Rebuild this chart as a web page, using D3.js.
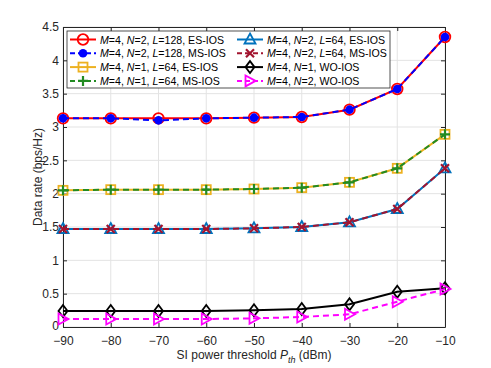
<!DOCTYPE html>
<html>
<head>
<meta charset="utf-8">
<script src="https://cdn.jsdelivr.net/npm/d3@7"></script>
<style>
  body { margin: 0; background: #fff; }
  text { font-family: "Liberation Sans", Arial, sans-serif; }
</style>
</head>
<body>
<div id="chart"></div>
<script>
// data
const thresholds = [-90, -80, -70, -60, -50, -40, -30, -20, -10];
const yTicks = [0, 0.5, 1, 1.5, 2, 2.5, 3, 3.5, 4, 4.5];

const es128 = [3.13, 3.13, 3.13, 3.13, 3.14, 3.15, 3.26, 3.57, 4.35];
const ms128 = [3.13, 3.13, 3.10, 3.13, 3.14, 3.15, 3.26, 3.57, 4.35];
const esN1 = [2.05, 2.06, 2.06, 2.06, 2.07, 2.09, 2.17, 2.38, 2.89];
const msN1 = [2.05, 2.06, 2.06, 2.06, 2.07, 2.09, 2.17, 2.38, 2.89];
const es64 = [1.47, 1.47, 1.47, 1.47, 1.48, 1.50, 1.57, 1.77, 2.38];
const ms64 = [1.47, 1.47, 1.47, 1.47, 1.48, 1.50, 1.57, 1.77, 2.38];
const woN1 = [0.24, 0.24, 0.24, 0.24, 0.25, 0.27, 0.34, 0.53, 0.58];
const woN2 = [0.12, 0.12, 0.12, 0.12, 0.13, 0.15, 0.19, 0.38, 0.57];

const series = [
  {lab: ["M", "=4, ", "N", "=2, ", "L", "=128, ES-IOS"], vals: es128, color: "#ff0000", dash: null, marker: "circle"},
  {lab: ["M", "=4, ", "N", "=2, ", "L", "=128, MS-IOS"], vals: ms128, color: "#0000ff", dash: "6,4", marker: "dot"},
  {lab: ["M", "=4, ", "N", "=1, ", "L", "=64, ES-IOS"], vals: esN1, color: "#edb120", dash: null, marker: "square"},
  {lab: ["M", "=4, ", "N", "=1, ", "L", "=64, MS-IOS"], vals: msN1, color: "#228b22", dash: "6,4", marker: "plus"},
  {lab: ["M", "=4, ", "N", "=2, ", "L", "=64, ES-IOS"], vals: es64, color: "#0072bd", dash: null, marker: "triangle"},
  {lab: ["M", "=4, ", "N", "=2, ", "L", "=64, MS-IOS"], vals: ms64, color: "#a2142f", dash: "6,4", marker: "cross"},
  {lab: ["M", "=4, ", "N", "=1, WO-IOS"], vals: woN1, color: "#000000", dash: null, marker: "diamond"},
  {lab: ["M", "=4, ", "N", "=2, WO-IOS"], vals: woN2, color: "#ff00ff", dash: "6,4", marker: "tri-right"}
];

const W = 491, H = 368;
const margin = {top: 27, right: 46, bottom: 41, left: 63};
const width = W - margin.left - margin.right;
const height = H - margin.top - margin.bottom;

const svg = d3.select("#chart").append("svg")
  .attr("width", W).attr("height", H);
const g = svg.append("g")
  .attr("transform", `translate(${margin.left},${margin.top})`);

const x = d3.scaleLinear().domain([-90, -10]).range([0, width]);
const y = d3.scaleLinear().domain([0, 4.5]).range([height, 0]);

// grid
g.append("g").selectAll("line").data(thresholds).join("line")
  .attr("x1", d => x(d)).attr("x2", d => x(d))
  .attr("y1", 0).attr("y2", height)
  .attr("stroke", "#e3e3e3").attr("stroke-width", 1);
g.append("g").selectAll("line").data(yTicks).join("line")
  .attr("x1", 0).attr("x2", width)
  .attr("y1", d => y(d)).attr("y2", d => y(d))
  .attr("stroke", "#e3e3e3").attr("stroke-width", 1);

// axes (ticks inside, MATLAB style)
const xAxis = d3.axisBottom(x).tickValues(thresholds).tickSizeInner(-4).tickSizeOuter(0).tickPadding(9);
const yAxis = d3.axisLeft(y).tickValues(yTicks).tickSizeInner(-4).tickSizeOuter(0).tickPadding(4)
  .tickFormat(d3.format("~g"));
const xTop = d3.axisTop(x).tickValues(thresholds).tickSizeInner(-4).tickSizeOuter(0).tickFormat("");
const yRight = d3.axisRight(y).tickValues(yTicks).tickSizeInner(-4).tickSizeOuter(0).tickFormat("");

function styleAxis(sel) {
  sel.select(".domain").attr("stroke", "#262626").attr("stroke-width", 1);
  sel.selectAll(".tick line").attr("stroke", "#262626");
  sel.selectAll(".tick text").attr("fill", "#262626").style("font-size", "12px")
    .style("font-family", "'Liberation Sans', Arial, sans-serif");
}
g.append("g").attr("transform", `translate(0,${height})`).call(xAxis).call(styleAxis);
const yG = g.append("g").call(yAxis).call(styleAxis);
// nudge the "0" label up a little so it clears "-90"
yG.selectAll(".tick text").filter(d => d === 0).attr("dy", "0.2em");
g.append("g").call(xTop).call(styleAxis);
g.append("g").attr("transform", `translate(${width},0)`).call(yRight).call(styleAxis);

// labels
g.append("text")
  .attr("transform", `translate(${-21},${height / 2}) rotate(-90)`)
  .attr("text-anchor", "middle")
  .attr("fill", "#262626").style("font-size", "12px")
  .text("Data rate (bps/Hz)");

const xl = g.append("text")
  .attr("x", width / 2).attr("y", height + 32)
  .attr("text-anchor", "middle")
  .attr("fill", "#262626").style("font-size", "12px");
xl.append("tspan").text("SI power threshold ");
xl.append("tspan").style("font-style", "italic").text("P");
xl.append("tspan").style("font-style", "italic").style("font-size", "9px").attr("dy", 4).text("th");
xl.append("tspan").attr("dy", -4).text(" (dBm)");

// markers
function drawMarker(sel, type, color) {
  if (type === "circle") {
    sel.append("circle").attr("r", 5.3).attr("fill", "none").attr("stroke", color).attr("stroke-width", 1.8);
  } else if (type === "dot") {
    sel.append("circle").attr("r", 4.3).attr("fill", color);
  } else if (type === "square") {
    sel.append("rect").attr("x", -4.5).attr("y", -4.5).attr("width", 9).attr("height", 9)
      .attr("fill", "none").attr("stroke", color).attr("stroke-width", 1.8);
  } else if (type === "plus") {
    sel.append("path").attr("d", "M-5,0H5M0,-5V5").attr("stroke", color).attr("stroke-width", 2.2);
  } else if (type === "triangle") {
    sel.append("path").attr("d", "M0,-6L5.5,4H-5.5Z").attr("fill", "none").attr("stroke", color).attr("stroke-width", 1.8);
  } else if (type === "cross") {
    sel.append("path").attr("d", "M-4,-4L4,4M-4,4L4,-4").attr("stroke", color).attr("stroke-width", 2.2);
  } else if (type === "diamond") {
    sel.append("path").attr("d", "M0,-6L4.5,0L0,6L-4.5,0Z").attr("fill", "none").attr("stroke", color).attr("stroke-width", 1.8);
  } else if (type === "tri-right") {
    sel.append("path").attr("d", "M5.5,0L-4.5,-5.5V5.5Z").attr("fill", "none").attr("stroke", color).attr("stroke-width", 1.8);
  }
}

const line = d3.line().x((d, i) => x(thresholds[i])).y(d => y(d));

series.forEach(s => {
  g.append("path").datum(s.vals)
    .attr("d", line)
    .attr("fill", "none")
    .attr("stroke", s.color)
    .attr("stroke-width", 2)
    .attr("stroke-dasharray", s.dash);
  s.vals.forEach((v, i) => {
    const m = g.append("g").attr("transform", `translate(${x(thresholds[i])},${y(v)})`);
    drawMarker(m, s.marker, s.color);
  });
});

// legend
const leg = g.append("g").attr("transform", "translate(4,4)");
leg.append("rect").attr("width", 323).attr("height", 57)
  .attr("fill", "#fff").attr("stroke", "#262626").attr("stroke-width", 0.8);
series.forEach((s, idx) => {
  const col = Math.floor(idx / 4), row = idx % 4;
  const ex = 3 + col * 167, ey = 8.5 + row * 13.8;
  const item = leg.append("g").attr("transform", `translate(${ex},${ey})`);
  item.append("line").attr("x1", 0).attr("x2", 26).attr("y1", 0).attr("y2", 0)
    .attr("stroke", s.color).attr("stroke-width", 2).attr("stroke-dasharray", s.dash ? "5,3" : null);
  const mk = item.append("g").attr("transform", "translate(13,0)");
  drawMarker(mk, s.marker, s.color);
  const t = item.append("text").attr("x", 30).attr("y", 4)
    .attr("fill", "#000").style("font-size", "10.6px");
  s.lab.forEach((part, j) => {
    t.append("tspan").style("font-style", j % 2 === 0 && j < 5 ? "italic" : "normal").text(part);
  });
});
</script>
</body>
</html>
